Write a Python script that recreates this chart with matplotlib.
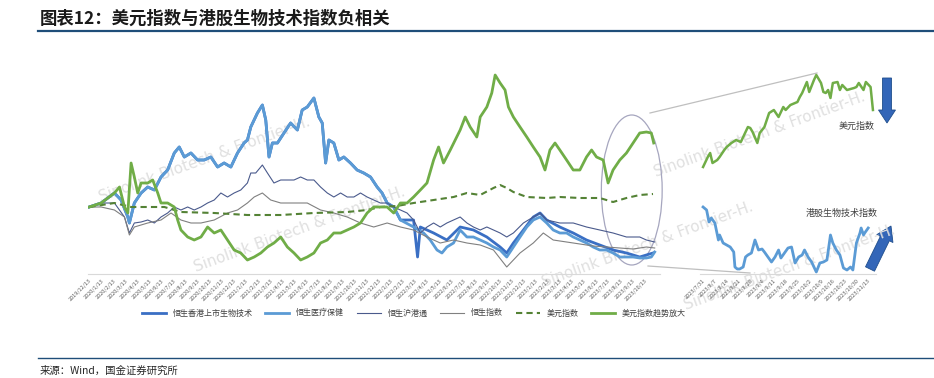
import matplotlib
matplotlib.use('Agg')
import matplotlib.pyplot as plt
from matplotlib.patches import Ellipse, FancyArrow
import pandas as pd

plt.rcParams['font.family'] = ['Noto Sans CJK SC', 'DejaVu Sans']

# ---- main chart data: months since 2019/12/13, relative level ----
hs_bio_t = [0, 0.99, 2.09, 2.64, 3.2, 3.33, 3.74, 4.3, 4.85, 5.4, 5.95, 6.5, 7.05, 7.46, 7.88, 8.43,
            8.98, 9.53, 10.08, 10.64, 11.18, 11.74, 12.29, 12.83, 13.11, 13.39, 13.94, 14.35, 14.63, 14.9,
            15.18, 15.6, 16.14, 16.69, 17.25, 17.65, 18.07, 18.62, 19.03, 19.31, 19.59, 19.86, 20.27,
            20.69, 21.1, 21.65, 22.2, 22.75, 23.31, 23.86, 24.27, 24.69, 25.23, 25.79,
            26.88, 27.21, 27.44, 28.54, 29.64, 30.74, 31.84, 32.95, 34.05, 34.6, 35.15, 35.98, 36.8,
            37.36, 37.91, 39.0, 40.11, 41.21, 42.31, 43.41, 44.52, 45.62, 46.72]
hs_bio_v = [67, 71, 81, 74, 57, 51, 71, 81, 87, 84, 97, 104, 121, 127, 117, 121, 114, 114, 117, 107,
            111, 107, 121, 131, 134, 147, 161, 169, 154, 117, 131, 131, 141, 151, 144, 164, 167, 176, 157, 151,
            111, 134, 131, 114, 117, 111, 104, 101, 97, 87, 81, 71, 67, 54,
            54, 17, 47, 41, 34, 47, 44, 37, 27, 21, 31, 44, 57, 61, 54, 47, 41, 34, 29, 24, 21, 17, 21]

hs_health_t = [0, 0.99, 2.09, 2.64, 3.2, 3.33, 3.74, 4.3, 4.85, 5.4, 5.95, 6.5, 7.05, 7.46, 7.88, 8.43,
               8.98, 9.53, 10.08, 10.64, 11.18, 11.74, 12.29, 12.83, 13.11, 13.39, 13.94, 14.35, 14.63, 14.9,
               15.18, 15.6, 16.14, 16.69, 17.25, 17.65, 18.07, 18.62, 19.03, 19.31, 19.59, 19.86, 20.27,
               20.69, 21.1, 21.65, 22.2, 22.75, 23.31, 23.86, 24.27, 24.69, 25.23, 25.79, 26.88, 27.71,
               28.26, 28.82, 29.23, 29.64, 30.19, 30.74, 31.3, 31.84, 32.4, 32.95, 33.5, 34.05, 34.6, 35.15,
               35.7, 36.26, 36.8, 37.36, 37.91, 38.45, 39.0, 39.56, 40.11, 40.66, 41.21, 41.76, 42.31,
               42.87, 43.41, 43.97, 44.52, 45.07, 45.62, 46.17, 46.58, 46.86]
hs_health_v = [67, 71, 81, 74, 57, 51, 71, 81, 87, 84, 97, 104, 121, 127, 117, 121, 114, 114, 117, 107,
               111, 107, 121, 131, 134, 147, 161, 169, 154, 117, 131, 131, 141, 151, 144, 164, 167, 176, 157, 151,
               111, 134, 131, 114, 117, 111, 104, 101, 97, 87, 81, 71, 67, 54, 47, 41, 34, 24, 21, 27,
               31, 44, 37, 37, 34, 31, 27, 24, 17, 27, 37, 47, 54, 57, 51, 44, 41, 41, 37, 34,
               31, 27, 24, 24, 21, 17, 17, 17, 16, 16, 17, 22]

hs_connect_t = [0, 0.99, 2.09, 2.92, 3.33, 3.74, 4.3, 4.85, 5.4, 5.95, 6.5, 7.05, 7.6, 8.16, 8.7, 9.26,
                9.81, 10.36, 10.91, 11.46, 12.01, 12.56, 13.11, 13.39, 13.8, 14.35, 14.77, 15.31, 15.87,
                16.42, 16.97, 17.52, 18.07, 18.62, 19.17, 19.73, 20.27, 20.83, 21.38, 21.93, 22.48, 23.03,
                23.58, 24.13, 24.69, 25.23, 25.79, 26.34, 26.88, 27.44, 27.99, 28.54, 29.09, 29.64, 30.19,
                30.74, 31.3, 31.84, 32.4, 32.95, 34.05, 34.6, 35.15, 35.98, 36.8, 37.36, 37.91, 39.0, 40.11,
                41.21, 42.31, 43.41, 44.52, 45.62, 46.17, 46.86]
hs_connect_v = [67, 71, 71, 57, 41, 51, 52, 54, 51, 57, 61, 67, 64, 67, 64, 67, 71, 74, 81, 77,
                81, 84, 91, 101, 101, 109, 101, 91, 94, 94, 94, 97, 94, 94, 87, 81, 77, 81, 77, 77,
                81, 77, 74, 71, 71, 67, 64, 61, 54, 41, 47, 51, 47, 51, 54, 57, 51, 47, 44, 47,
                41, 37, 41, 51, 57, 61, 54, 51, 51, 47, 44, 41, 37, 37, 34, 32]

hsi_t = [0, 0.99, 2.09, 2.92, 3.33, 3.74, 4.85, 5.95, 6.78, 7.6, 8.43, 9.26, 10.36, 11.46, 12.29, 13.11,
         13.67, 14.35, 15.04, 15.87, 16.97, 18.07, 19.17, 20.27, 21.38, 22.48, 23.58, 24.69, 25.79, 26.88,
         27.99, 29.09, 30.19, 31.3, 32.4, 33.5, 34.6, 35.7, 36.8, 37.63, 38.45, 39.56, 40.66, 41.76, 42.87,
         43.97, 45.07, 46.17, 46.86]
hsi_v = [67, 67, 64, 57, 39, 47, 51, 54, 61, 54, 51, 51, 54, 61, 64, 71, 77, 81, 74, 71,
         71, 71, 64, 61, 57, 51, 47, 51, 47, 44, 37, 31, 34, 31, 29, 24, 7, 21, 31, 41,
         34, 32, 30, 28, 27, 26, 25, 27, 26]

usd_t = [0, 2.09, 3.47, 4.85, 6.23, 7.6, 10.36, 13.11, 15.87, 18.62, 21.38, 23.03, 24.13, 25.5, 26.88,
         28.54, 30.19, 31.3, 32.4, 33.5, 34.05, 34.6, 35.15, 36.26, 37.91, 39.0, 40.66, 42.31, 43.41,
         44.52, 45.62, 46.72]
usd_v = [67, 71, 67, 67, 67, 62, 61, 59, 59, 61, 62, 64, 67, 68, 71, 74, 77, 81, 79, 86,
         89, 86, 82, 77, 76, 77, 76, 76, 72, 76, 79, 80]

usd_amp_t = [0, 0.99, 2.09, 2.51, 2.92, 3.2, 3.47, 3.74, 4.02, 4.3, 4.85, 5.26, 5.68, 5.95, 6.5, 7.05,
             7.33, 7.6, 8.16, 8.7, 9.26, 9.81, 10.36, 10.91, 11.46, 12.01, 12.56, 13.11, 13.67, 14.22,
             14.77, 15.31, 15.87, 16.42, 16.97, 17.52, 18.07, 18.62, 19.17, 19.73, 20.27, 20.83, 21.38,
             21.93, 22.48, 23.03, 23.58, 24.13, 24.69, 25.23, 25.79, 26.34, 26.88, 27.44, 27.99, 28.54,
             28.95, 29.36, 29.92, 30.33, 30.74, 31.16, 31.57, 32.12, 32.4, 32.95, 33.36, 33.64, 34.05,
             34.46, 34.74, 35.15, 35.7, 36.26, 36.8, 37.36, 37.77, 38.18, 38.6, 39.0, 39.56, 40.11, 40.66,
             41.21, 41.63, 42.04, 42.59, 43.0, 43.41, 43.97, 44.52, 45.07, 45.62, 46.17, 46.58, 46.78]
usd_amp_v = [67, 71, 81, 87, 67, 61, 111, 97, 81, 91, 91, 94, 81, 71, 71, 67, 54, 44, 37, 34,
             37, 47, 41, 44, 34, 24, 21, 14, 17, 21, 27, 31, 37, 27, 21, 14, 17, 21, 31, 34,
             41, 41, 44, 47, 51, 61, 67, 67, 67, 61, 71, 71, 77, 84, 91, 114, 127, 111, 124, 134,
             144, 157, 147, 137, 157, 167, 181, 199, 191, 184, 167, 157, 147, 137, 127, 117, 104, 124, 131, 124,
             114, 104, 104, 117, 124, 117, 114, 91, 104, 114, 121, 131, 141, 142, 141, 131]

main_labels = [f'{d.year}/{d.month}/13' for d in pd.date_range('2019-12-01', '2023-10-01', freq='MS')]

# ---- zoom panel data: trading days since 2023/7/31 ----
zoom_usd_t = [0, 2, 3, 4, 6, 7, 9, 10, 12, 14, 16, 17, 19, 20, 21, 23, 24, 26, 28, 30,
              32, 34, 35, 37, 40, 41, 42, 44, 45, 47, 48, 50, 51, 52, 53, 54, 55, 57, 58, 59,
              61, 64, 65, 66, 68, 69, 71, 72]
zoom_usd_v = [107, 117, 121, 111, 114, 117, 124, 127, 131, 134, 132, 137, 147, 146, 142, 131, 141, 147, 161, 164,
              157, 167, 164, 169, 172, 177, 181, 192, 182, 194, 199, 191, 182, 181, 184, 176, 191, 192, 184, 189,
              184, 186, 187, 191, 184, 192, 187, 164]
zoom_bio_t = [0, 1.5, 2.5, 3.5, 5, 6.5, 7, 8.5, 10, 11.5, 13, 13.5, 14.5, 15.5, 17, 18, 19, 20.5, 22, 23.5,
              25, 26, 27.5, 29, 30.5, 32, 33, 34.5, 36, 37.5, 39, 40.5, 42, 43, 44.5, 46, 48, 49.5, 51, 52.5,
              54, 55, 56.5, 58, 59.5, 61, 62.5, 63.5, 65, 66.5, 67, 68, 68.5, 70]
zoom_bio_v = [67, 64, 52, 56, 51, 34, 39, 31, 29, 27, 22, 7, 5, 5, 7, 17, 19, 21, 34, 24,
              25, 22, 17, 12, 17, 24, 16, 21, 26, 27, 11, 17, 19, 24, 17, 12, 2, 11, 12, 14,
              39, 31, 24, 19, 6, 4, 7, 4, 31, 41, 46, 39, 41, 46]
zoom_ticks = [0, 5, 10, 15, 20, 25, 30, 35, 40, 45, 50, 55, 60, 65, 70]
zoom_labels = ['2023/7/31', '2023/8/7', '2023/8/14', '2023/8/21', '2023/8/28', '2023/9/4', '2023/9/11',
               '2023/9/18', '2023/9/25', '2023/10/2', '2023/10/9', '2023/10/16', '2023/10/23',
               '2023/10/30', '2023/11/13']

W, H = 934, 378


def fbox(x0, y0, x1, y1):
    # pixel box (top-left origin) -> figure rect
    return [x0 / W, 1 - y1 / H, (x1 - x0) / W, (y1 - y0) / H]


fig = plt.figure(figsize=(W / 100, H / 100), dpi=100)

# overlay in pixel coordinates for decorations
bg = fig.add_axes([0, 0, 1, 1])
bg.set_xlim(0, W)
bg.set_ylim(H, 0)
bg.axis('off')

wm = 'Sinolink Biotech & Frontier-H.'
for cx, cy in [(205, 160), (300, 230), (648, 245), (760, 135), (790, 268)]:
    bg.text(cx, cy, wm, fontsize=11, color='#E0E0E0', rotation=20, ha='center', va='center',
            rotation_mode='anchor', family='DejaVu Sans')

bg.text(40, 19, '图表12：美元指数与港股生物技术指数负相关', fontsize=12.5, fontweight='bold',
        color='#1a1a1a', va='center', ha='left')
bg.plot([38, W], [31, 31], color='#1F4E79', lw=1.6)
bg.plot([38, W], [358, 358], color='#1F4E79', lw=1.0)
bg.text(40, 371, '来源：Wind，国金证券研究所', fontsize=7.5, color='#262626', va='center', ha='left')

# zoom connectors
bg.plot([650, 817], [113, 73], color='#BFBFBF', lw=0.9)
bg.plot([648, 750], [266, 273], color='#BFBFBF', lw=0.9)

bg.add_patch(FancyArrow(887, 78, 0, 45, width=9, head_width=17, head_length=13,
                        length_includes_head=True, facecolor='#3366B8', edgecolor='#1F4E8C', lw=0.6))
bg.add_patch(FancyArrow(870, 269, 21, -43, width=10, head_width=18, head_length=14,
                        length_includes_head=True, facecolor='#3366B8', edgecolor='#1F4E8C', lw=0.6))
bg.text(857, 126, '美元指数', fontsize=6.5, color='#404040', ha='center', va='center')
bg.text(842, 213, '港股生物技术指数', fontsize=6.5, color='#404040', ha='center', va='center')

# ---- main chart ----
ax = fig.add_axes(fbox(88, 65, 660, 274))
ax.patch.set_visible(False)
ax.plot(hs_bio_t, hs_bio_v, color='#3A6FC4', lw=2.0, label='恒生香港上市生物技术')
ax.plot(hs_health_t, hs_health_v, color='#5B9BD5', lw=2.0, label='恒生医疗保健')
ax.plot(hs_connect_t, hs_connect_v, color='#4A5A8C', lw=0.8, label='恒生沪港通')
ax.plot(hsi_t, hsi_v, color='#808080', lw=0.8, label='恒生指数')
ax.plot(usd_t, usd_v, color='#548235', lw=1.5, ls=(0, (3, 2)), label='美元指数')
ax.plot(usd_amp_t, usd_amp_v, color='#70AD47', lw=2.0, label='美元指数趋势放大')
ax.add_patch(Ellipse((44.96, 84), 5.04, 150, fill=False, edgecolor='#A6A6BF', lw=0.9, clip_on=False))
ax.set_xlim(-0.1, 47.3)
ax.set_ylim(0, 209)
ax.set_xticks(range(len(main_labels)))
ax.set_xticklabels(main_labels, rotation=45, ha='right', rotation_mode='anchor',
                   fontsize=4, color='#595959')
ax.tick_params(axis='x', length=0, pad=3)
ax.set_yticks([])
for s in ['top', 'right', 'left']:
    ax.spines[s].set_visible(False)
ax.spines['bottom'].set_color('#D9D9D9')
ax.spines['bottom'].set_linewidth(0.8)

# ---- zoom panel ----
axz = fig.add_axes(fbox(700, 65, 876, 274))
axz.patch.set_visible(False)
axz.plot(zoom_usd_t, zoom_usd_v, color='#70AD47', lw=1.8)
axz.plot(zoom_bio_t, zoom_bio_v, color='#5B9BD5', lw=2.0)
axz.set_xlim(-1.3, 73.3)
axz.set_ylim(0, 209)
axz.set_xticks(zoom_ticks)
axz.set_xticklabels(zoom_labels, rotation=45, ha='right', rotation_mode='anchor',
                    fontsize=4, color='#595959')
axz.tick_params(axis='x', length=0, pad=3)
axz.set_yticks([])
for s in ['top', 'right', 'left']:
    axz.spines[s].set_visible(False)
axz.spines['bottom'].set_color('#D9D9D9')
axz.spines['bottom'].set_linewidth(0.8)

fig.legend(*ax.get_legend_handles_labels(), loc='center', bbox_to_anchor=(0.443, 0.172), ncol=6,
           frameon=False, fontsize=5.8, handlelength=3, handletextpad=0.8, columnspacing=1.6,
           labelcolor='#404040')

fig.savefig('out.png', dpi=100)
